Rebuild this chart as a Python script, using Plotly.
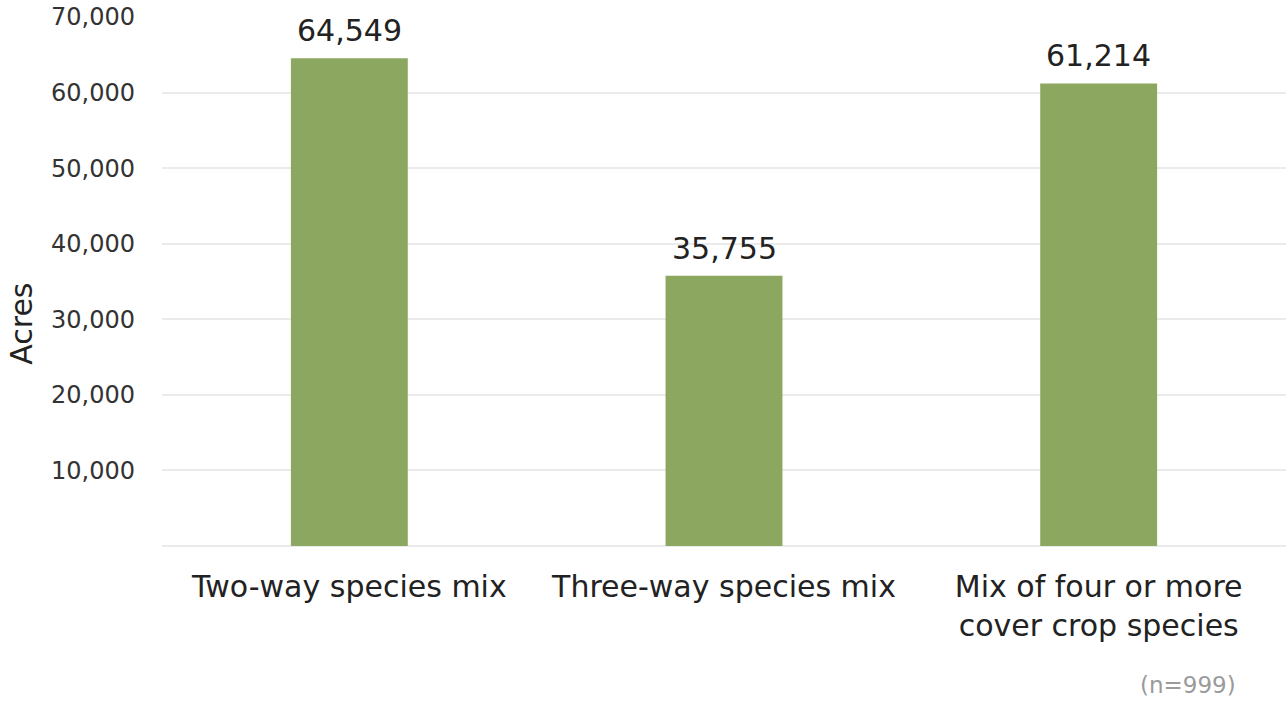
import plotly.graph_objects as go

categories = ["Two-way species mix", "Three-way species mix", "Mix of four or more<br>cover crop species"]
acres = [64549, 35755, 61214]
y_ticks = [10000, 20000, 30000, 40000, 50000, 60000, 70000]
y_tick_labels = ["10,000", "20,000", "30,000", "40,000", "50,000", "60,000", "70,000"]
y_title = "Acres"
note = "(n=999)"

FONT = "DejaVu Sans, Arial, sans-serif"

fig = go.Figure(go.Bar(
    x=categories, y=acres,
    marker=dict(color="#8ca760", line=dict(width=0)),
    cliponaxis=False,
))

value_labels = [
    dict(x=c, y=v, xref="x", yref="y", text=f"{v:,}", showarrow=False,
         yanchor="bottom", yshift=8,
         font=dict(size=30, color="#222222", family=FONT))
    for c, v in zip(categories, acres)
]

fig.update_layout(
    width=1288, height=702,
    margin=dict(l=162, r=2, t=17, b=156, autoexpand=False),
    paper_bgcolor="white", plot_bgcolor="white",
    bargap=0.688,
    showlegend=False,
    font=dict(family=FONT, color="#222222"),
    xaxis=dict(
        showgrid=False, zeroline=False, showline=False,
        automargin=False,
        tickfont=dict(size=30, color="#222222"),
        ticklabelstandoff=20,
    ),
    yaxis=dict(
        range=[0, 70000],
        automargin=False,
        tickvals=y_ticks, ticktext=y_tick_labels,
        tickfont=dict(size=24, color="#333333"),
        gridcolor="#ebebeb", gridwidth=2,
        zeroline=True, zerolinecolor="#ebebeb", zerolinewidth=2,
        showline=False,
        ticklabelstandoff=26,
        ticklabeloverflow="allow",
    ),
    annotations=value_labels + [
        dict(text=y_title, xref="paper", yref="paper", x=-0.1246, y=0.42,
             xanchor="center", yanchor="middle", textangle=-90, showarrow=False,
             font=dict(size=30, color="#222222", family=FONT)),
        dict(text=note, xref="paper", yref="paper", x=0.957, y=-0.263,
             xanchor="right", yanchor="middle", showarrow=False,
             font=dict(size=23, color="#9a9a9a", family=FONT)),
    ],
)

fig.write_html("out.html", config={"displayModeBar": False},
               post_script="document.body.style.margin='0';")
